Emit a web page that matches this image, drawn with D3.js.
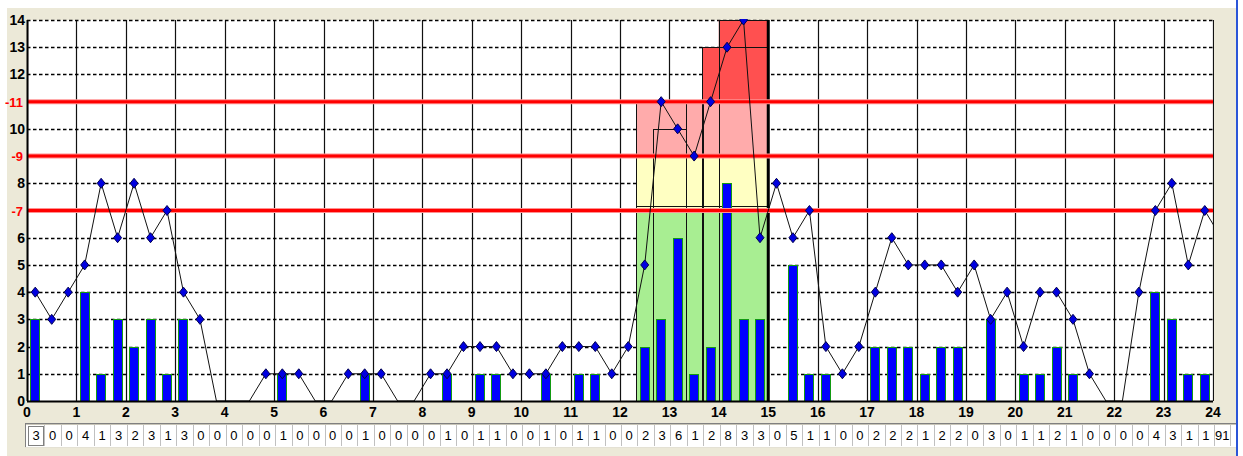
<!DOCTYPE html>
<html>
<head>
<meta charset="utf-8">
<script src="https://cdn.jsdelivr.net/npm/d3@7"></script>
<style>
  body { margin: 0; background: #fff; }
  svg { display: block; }
  .lbl { font-family: "Liberation Sans Narrow", "Arial Narrow", "Liberation Sans", sans-serif; font-weight: bold; font-size: 14px; }
  .cell { font-family: "Liberation Sans Narrow", "Arial Narrow", "Liberation Sans", sans-serif; font-size: 13px; }
</style>
</head>
<body>
<svg id="chart" width="1243" height="456"></svg>
<script>
// counts per 20 minute slot (72 slots over 24h)
var slotCounts = [3,0,0,4,1,3,2,3,1,3,0,0,0,0,0,1,0,0,0,0,1,0,0,0,0,1,0,1,1,0,0,1,0,1,1,0,
                  0,2,3,6,1,2,8,3,3,0,5,1,1,0,0,2,2,2,1,2,2,0,3,0,1,1,2,1,0,0,0,0,4,3,1,1];
// hourly (sliding) values, one per slot
var slidingValues = [4,3,4,5,8,6,8,6,7,4,3,0,0,0,1,1,1,0,0,1,1,1,0,0,1,1,2,2,2,1,1,1,2,2,2,1,
                     2,5,11,10,9,11,13,14,6,8,6,7,2,1,2,4,6,5,5,5,4,5,3,4,2,4,4,3,1,0,0,4,7,8,5,7];
// value of the line just before 0h and just after 24h
var edgeValues = [4, 6];
var totalCount = 91;

var hourTicks = [0,1,2,3,4,5,6,7,8,9,10,11,12,13,14,15,16,17,18,19,20,21,22,23,24];
var valueTicks = [0,1,2,3,4,5,6,8,10,12,13,14];
var gridValues = [1,2,3,4,5,6,7,8,9,10,11,12,13,14];
var thresholds = [7, 9, 11];
var thresholdLabels = ["-7", "-9", "-11"];

// alarm zone: colour bands and stacked blocks (hours, top value)
var zoneBreaks = [0, 7, 9, 11, 14];
var zoneColors = ["#a8ee92", "#ffffc2", "#ffabab", "#ff5050"];
var blockStart = [12.333, 12.667, 13.333, 13.667, 14];
var blockEnd   = [15, 13.333, 13.667, 15, 15];
var blockTop   = [11, 10, 11, 13, 14];
var greenBoxTop = 7.15;

(function() {
var svg = d3.select("#chart");
var W = 1243, H = 456;
var pLeft = 27, pRight = 1213, pTop = 20, pBottom = 401;

var x = d3.scaleLinear().domain([0, 24]).range([pLeft, pRight]);
var y = d3.scaleLinear().domain([0, 14]).range([pBottom, pTop]);
var slotW = (x(24) - x(0)) / slotCounts.length;
var slotX = function(i) { return x(0) + i * slotW; };

// window background
svg.append("rect").attr("x", 7).attr("y", 8).attr("width", 1229).attr("height", H - 8).attr("fill", "#ece9d8");
svg.append("rect").attr("x", 1236).attr("y", 0).attr("width", 2).attr("height", H).attr("fill", "#2b55d8");
svg.append("rect").attr("x", pLeft).attr("y", pTop).attr("width", pRight - pLeft).attr("height", pBottom - pTop).attr("fill", "#fff");

svg.append("defs").append("clipPath").attr("id", "plotclip")
  .append("rect").attr("x", pLeft).attr("y", pTop - 1).attr("width", pRight - pLeft + 1).attr("height", pBottom - pTop + 1);

var plot = svg.append("g").attr("clip-path", "url(#plotclip)");

// grid
plot.selectAll(".vgrid").data(hourTicks).enter().append("line")
  .attr("class", "vgrid")
  .attr("x1", d => Math.round(x(d)) + 0.5).attr("x2", d => Math.round(x(d)) + 0.5)
  .attr("y1", pTop).attr("y2", pBottom)
  .attr("stroke", "#111").attr("stroke-width", 1.2);

plot.selectAll(".hgrid").data(gridValues).enter().append("line")
  .attr("class", "hgrid")
  .attr("x1", pLeft).attr("x2", pRight)
  .attr("y1", d => Math.round(y(d)) + 0.5).attr("y2", d => Math.round(y(d)) + 0.5)
  .attr("stroke", "#000").attr("stroke-width", 1.6).attr("stroke-dasharray", "3.5,2.5");

// alarm zone fills
blockStart.forEach(function(s, b) {
  for (var z = 0; z < zoneColors.length; z++) {
    var lo = zoneBreaks[z], hi = Math.min(zoneBreaks[z + 1], blockTop[b]);
    if (hi <= lo) continue;
    plot.append("rect")
      .attr("x", x(s)).attr("width", x(blockEnd[b]) - x(s))
      .attr("y", y(hi)).attr("height", y(lo) - y(hi))
      .attr("fill", zoneColors[z]);
  }
});
// block outlines
blockStart.forEach(function(s, b) {
  plot.append("rect")
    .attr("x", Math.round(x(s)) + 0.5).attr("width", Math.round(x(blockEnd[b]) - x(s)))
    .attr("y", Math.round(y(blockTop[b])) + 0.5).attr("height", Math.round(y(0) - y(blockTop[b])))
    .attr("fill", "none").attr("stroke", "#111").attr("stroke-width", 1);
});
plot.append("rect")
  .attr("x", Math.round(x(blockStart[0])) + 0.5).attr("width", Math.round(x(blockEnd[0]) - x(blockStart[0])))
  .attr("y", Math.round(y(greenBoxTop)) + 0.5).attr("height", Math.round(y(0) - y(greenBoxTop)))
  .attr("fill", "none").attr("stroke", "#111").attr("stroke-width", 1);
plot.append("line")
  .attr("x1", x(15)).attr("x2", x(15)).attr("y1", y(14)).attr("y2", y(0))
  .attr("stroke", "#000").attr("stroke-width", 3);

// bars
var bw = 10;
slotCounts.forEach(function(d, i) {
  if (d <= 0) return;
  plot.append("rect")
    .attr("x", Math.round(slotX(i) + slotW / 2 - bw / 2) + 0.5)
    .attr("width", bw - 1)
    .attr("y", Math.round(y(d)) + 0.5)
    .attr("height", Math.round(y(0)) - Math.round(y(d)))
    .attr("fill", "#0000ff").attr("stroke", "#129a12").attr("stroke-width", 1);
});

// thresholds
thresholds.forEach(function(t) {
  plot.append("line").attr("x1", pLeft).attr("x2", pRight).attr("y1", y(t)).attr("y2", y(t))
    .attr("stroke", "#ff9090").attr("stroke-width", 5);
  plot.append("line").attr("x1", pLeft).attr("x2", pRight).attr("y1", y(t)).attr("y2", y(t))
    .attr("stroke", "#ff0000").attr("stroke-width", 3);
});

// sliding line
var pts = [[slotX(-0.5), edgeValues[0]]];
slidingValues.forEach(function(v, i) { pts.push([slotX(i + 0.5), v]); });
pts.push([slotX(slidingValues.length + 0.5), edgeValues[1]]);
plot.append("path")
  .attr("d", d3.line().x(d => d[0]).y(d => y(d[1]))(pts))
  .attr("fill", "none").attr("stroke", "#111").attr("stroke-width", 1);

slidingValues.forEach(function(v, i) {
  if (v <= 0) return;
  plot.append("path")
    .attr("d", "M0,-5L4,0L0,5L-4,0Z")
    .attr("transform", "translate(" + slotX(i + 0.5) + "," + y(v) + ")")
    .attr("fill", "#0000e0").attr("stroke", "#000050").attr("stroke-width", 1);
});

// axes frame
svg.append("line").attr("x1", pLeft).attr("x2", pRight).attr("y1", pBottom + 0.5).attr("y2", pBottom + 0.5)
  .attr("stroke", "#000").attr("stroke-width", 2);
svg.append("line").attr("x1", pLeft + 0.5).attr("x2", pLeft + 0.5).attr("y1", pTop).attr("y2", pBottom)
  .attr("stroke", "#000").attr("stroke-width", 2);

// y labels
svg.selectAll(".ylbl").data(valueTicks).enter().append("text")
  .attr("class", "lbl")
  .attr("x", 25).attr("y", d => y(d) + 5)
  .attr("text-anchor", "end").attr("fill", "#000")
  .text(d => d);
thresholds.forEach(function(t, i) {
  svg.append("text").attr("class", "lbl")
    .attr("x", 23).attr("y", y(t) + 5)
    .attr("text-anchor", "end").attr("fill", "#ff0000")
    .style("font-size", "13px")
    .text(thresholdLabels[i]);
});

// x labels
svg.selectAll(".xlbl").data(hourTicks).enter().append("text")
  .attr("class", "lbl")
  .attr("x", d => x(d)).attr("y", 417)
  .attr("text-anchor", "middle").attr("fill", "#000")
  .text(d => d);

// count row
var rowY = 423, rowH = 25;
svg.append("rect").attr("x", 25).attr("y", rowY).attr("width", 1211).attr("height", rowH)
  .attr("fill", "#fff");
svg.append("line").attr("x1", 25).attr("x2", 1236).attr("y1", rowY + 0.5).attr("y2", rowY + 0.5).attr("stroke", "#808080");
svg.append("line").attr("x1", 25).attr("x2", 1236).attr("y1", rowY + 1.5).attr("y2", rowY + 1.5).attr("stroke", "#c8c5b8");
svg.append("line").attr("x1", 25.5).attr("x2", 25.5).attr("y1", rowY).attr("y2", rowY + rowH).attr("stroke", "#808080");
svg.append("line").attr("x1", 25).attr("x2", 1236).attr("y1", rowY + rowH - 0.5).attr("y2", rowY + rowH - 0.5).attr("stroke", "#e4e1d4");

var cells = slotCounts.concat([totalCount]);
cells.forEach(function(c, i) {
  var cx = slotX(i) + 1;
  svg.append("line").attr("x1", Math.round(cx + slotW) + 0.5).attr("x2", Math.round(cx + slotW) + 0.5)
    .attr("y1", rowY + 2).attr("y2", rowY + rowH - 2).attr("stroke", "#c0c0c0");
  svg.append("text").attr("class", "cell")
    .attr("x", cx + slotW / 2).attr("y", rowY + 17)
    .attr("text-anchor", "middle").attr("fill", "#000")
    .text(c);
});
svg.append("rect").attr("x", 28.5).attr("y", rowY + 3.5).attr("width", 15).attr("height", 19)
  .attr("fill", "none").attr("stroke", "#000").attr("stroke-dasharray", "1,1");
})();
</script>
</body>
</html>
